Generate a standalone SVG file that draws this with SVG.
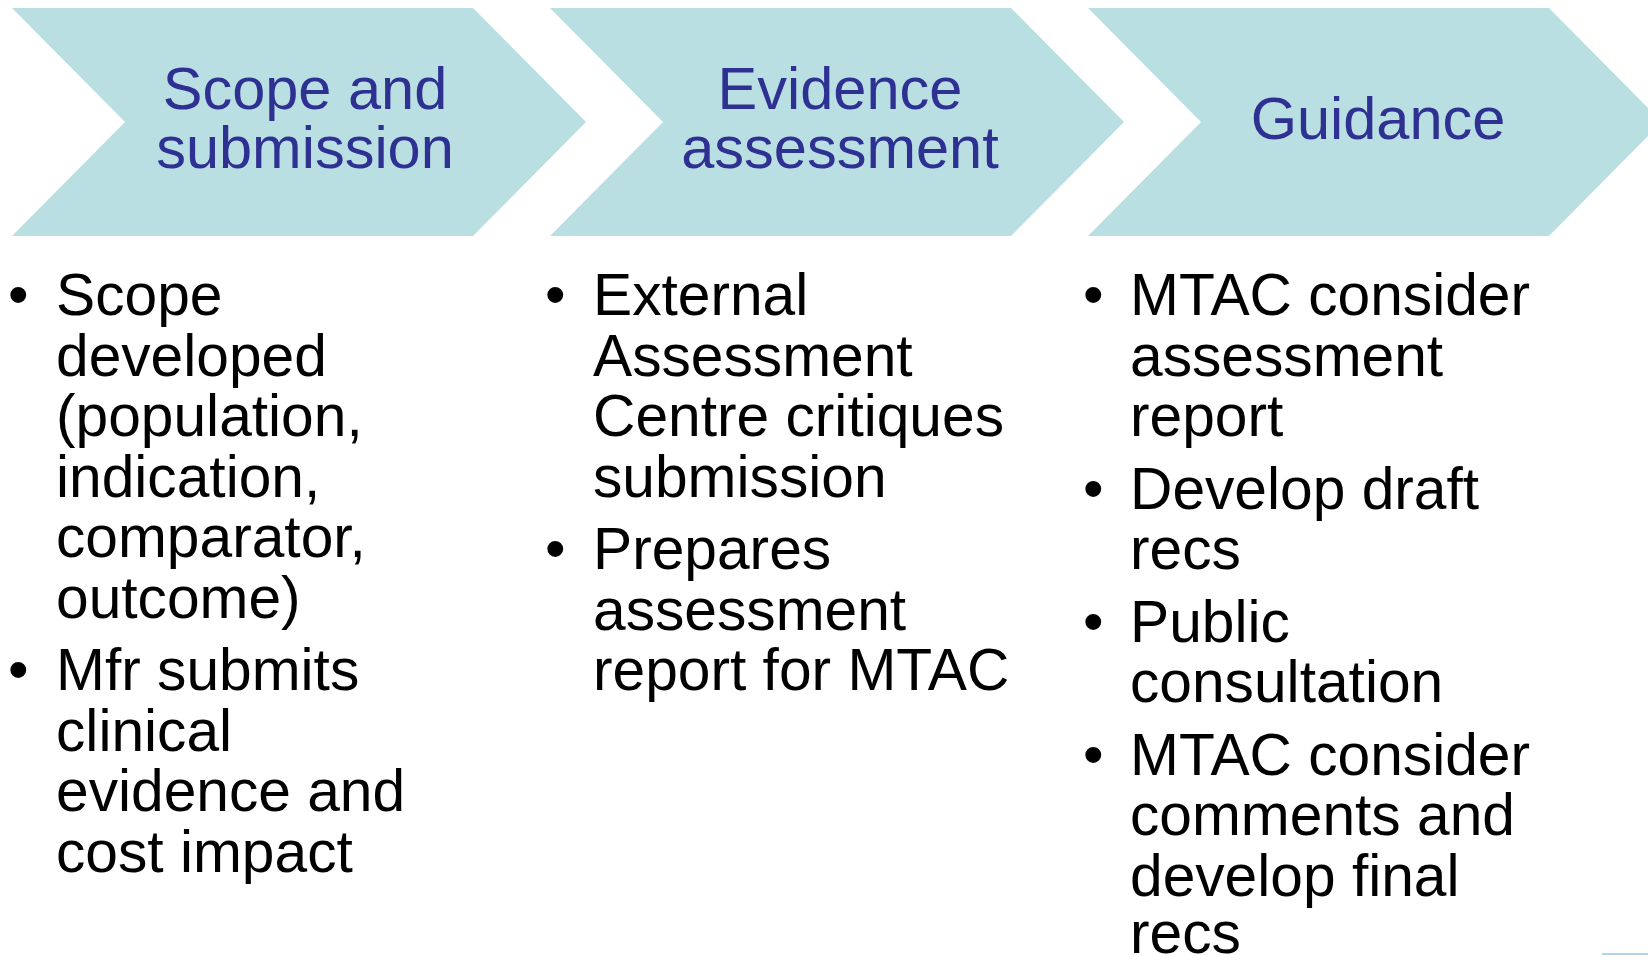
<svg xmlns="http://www.w3.org/2000/svg" width="1648" height="955" viewBox="0 0 1648 955">
  <style>
    .chev { fill: #B9DFE3; }
    .head { font-family: "Liberation Sans", Arial, sans-serif; font-size: 59.5px; fill: #2E3192; text-anchor: middle; }
    .body { font-family: "Liberation Sans", Arial, sans-serif; font-size: 58.7px; fill: #000000; }
  </style>
  <defs>
    <!-- one chevron step; placed by x offset -->
    <polygon id="chevron" points="0,8 461,8 574,122 461,236 0,236 113,122"/>
  </defs>
  <rect width="1648" height="955" fill="#ffffff"/>

  <g id="connectors"></g>

  <!-- Step 1 -->
  <g id="step-scope">
    <use href="#chevron" class="chev" x="12"/>
    <text class="head"><tspan x="305" y="109">Scope and</tspan><tspan x="305" y="168">submission</tspan></text>
  </g>
  <!-- Step 2 -->
  <g id="step-evidence">
    <use href="#chevron" class="chev" x="550"/>
    <text class="head"><tspan x="840" y="109">Evidence</tspan><tspan x="840" y="168">assessment</tspan></text>
  </g>
  <!-- Step 3 -->
  <g id="step-guidance">
    <use href="#chevron" class="chev" x="1088"/>
    <text class="head" x="1378" y="139">Guidance</text>
  </g>

  <!-- Bullet lists under each step -->
  <g id="list-scope" class="body">
    <text x="8" y="315">•</text>
    <text x="56" y="315">Scope</text>
    <text x="56" y="375.5">developed</text>
    <text x="56" y="436">(population,</text>
    <text x="56" y="496.5">indication,</text>
    <text x="56" y="557">comparator,</text>
    <text x="56" y="617.5">outcome)</text>
    <text x="8" y="690">•</text>
    <text x="56" y="690">Mfr submits</text>
    <text x="56" y="750.5">clinical</text>
    <text x="56" y="811">evidence and</text>
    <text x="56" y="871.5">cost impact</text>
  </g>

  <g id="list-evidence" class="body">
    <text x="545" y="315">•</text>
    <text x="593" y="315">External</text>
    <text x="593" y="375.5">Assessment</text>
    <text x="593" y="436">Centre critiques</text>
    <text x="593" y="496.5">submission</text>
    <text x="545" y="569">•</text>
    <text x="593" y="569">Prepares</text>
    <text x="593" y="629.5">assessment</text>
    <text x="593" y="690">report for MTAC</text>
  </g>

  <g id="list-guidance" class="body">
    <text x="1083" y="315">•</text>
    <text x="1130" y="315">MTAC consider</text>
    <text x="1130" y="375.5">assessment</text>
    <text x="1130" y="436">report</text>
    <text x="1083" y="508.5">•</text>
    <text x="1130" y="508.5">Develop draft</text>
    <text x="1130" y="569">recs</text>
    <text x="1083" y="641.5">•</text>
    <text x="1130" y="641.5">Public</text>
    <text x="1130" y="702">consultation</text>
    <text x="1083" y="774.5">•</text>
    <text x="1130" y="774.5">MTAC consider</text>
    <text x="1130" y="835">comments and</text>
    <text x="1130" y="895.5">develop final</text>
    <text x="1130" y="953">recs</text>
  </g>

  <!-- thin edge strip at lower right -->
  <rect x="1602" y="953" width="46" height="2" fill="#A6D8F2"/>
</svg>
